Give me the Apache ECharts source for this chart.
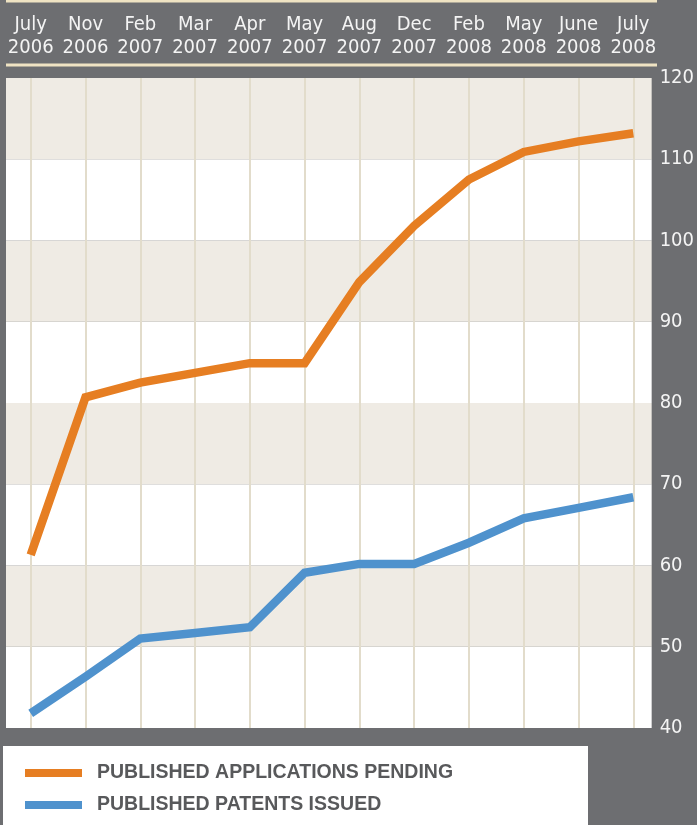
<!DOCTYPE html>
<html>
<head>
<meta charset="utf-8">
<style>
  html, body { margin: 0; padding: 0; background: #6d6e71; }
  #chart { width: 697px; height: 825px; }
</style>
<script src="https://cdn.jsdelivr.net/npm/echarts@6/dist/echarts.min.js"></script>
</head>
<body>
<div id="chart"></div>
<script>
// ---- data ----
const months = ['July', 'Nov', 'Feb', 'Mar', 'Apr', 'May', 'Aug', 'Dec', 'Feb', 'May', 'June', 'July'];
const years  = ['2006', '2006', '2007', '2007', '2007', '2007', '2007', '2007', '2008', '2008', '2008', '2008'];
const applicationsPending = [61.3, 80.7, 82.5, 83.7, 84.9, 84.9, 94.9, 101.8, 107.5, 110.9, 112.2, 113.2];
const patentsIssued       = [41.8, 46.3, 51.0, 51.7, 52.4, 59.1, 60.2, 60.2, 62.8, 65.8, 67.1, 68.4];
const seriesNames = ['PUBLISHED APPLICATIONS PENDING', 'PUBLISHED PATENTS ISSUED'];
const yMin = 40, yMax = 120, yStep = 10;

const categories = months.map((m, i) => m + '\n' + years[i]);

const condensed = "'Liberation Sans Narrow', 'DejaVu Sans Condensed', 'Liberation Sans', sans-serif";
const chart = echarts.init(document.getElementById('chart'), null, { renderer: 'canvas' });

const option = {
  backgroundColor: '#6d6e71',
  animation: false,
  graphic: [
    { type: 'rect', shape: { x: 6, y: 0, width: 651, height: 2.5 }, style: { fill: '#efe3c3' }, z: 10 },
    { type: 'rect', shape: { x: 6, y: 63.5, width: 651, height: 3 }, style: { fill: '#efe3c3' }, z: 10 },
    { type: 'rect', shape: { x: 3, y: 746, width: 585, height: 79 }, style: { fill: '#ffffff' }, z: 0 }
  ],
  legend: {
    orient: 'vertical',
    left: 25,
    top: 763,
    padding: 0,
    icon: 'rect',
    itemWidth: 57,
    itemHeight: 8,
    itemGap: 12,
    data: seriesNames,
    selectedMode: false,
    textStyle: {
      color: '#58595b',
      fontSize: 19.5,
      fontWeight: 'bold',
      fontFamily: "'Liberation Sans', Arial, sans-serif",
      lineHeight: 20,
      padding: [0, 0, 0, 10]
    },
    z: 5
  },
  grid: [
    { left: 6, right: 41, top: 78, bottom: 97 },
    { left: 30.7, right: 63.7, top: 78, bottom: 97 }
  ],
  xAxis: [
    { gridIndex: 0, type: 'value', min: 0, max: 1, show: false },
    {
      gridIndex: 1,
      type: 'category',
      data: categories,
      boundaryGap: false,
      position: 'top',
      axisLine: { show: false },
      axisTick: { show: false },
      axisLabel: {
        color: '#f4f4f4',
        fontSize: 20,
        lineHeight: 23,
        margin: 19,
        fontFamily: condensed,
        interval: 0
      },
      splitLine: { show: true, lineStyle: { color: '#e2dccb', width: 2 } },
      z: 2
    }
  ],
  yAxis: [
    {
      gridIndex: 0,
      type: 'value',
      min: yMin,
      max: yMax,
      interval: yStep,
      position: 'right',
      axisLine: { show: false },
      axisTick: { show: false },
      splitLine: { show: false },
      splitArea: { show: true, areaStyle: { color: ['#ffffff', '#efebe4'] } },
      axisLabel: {
        color: '#f4f4f4',
        fontSize: 20,
        margin: 8,
        fontFamily: condensed
      },
      z: 0
    },
    { gridIndex: 1, type: 'value', min: yMin, max: yMax, interval: yStep, show: false }
  ],
  series: [
    {
      name: seriesNames[0],
      type: 'line',
      xAxisIndex: 1,
      yAxisIndex: 1,
      data: applicationsPending,
      symbol: 'none',
      color: '#e67e22',
      lineStyle: { color: '#e67e22', width: 8.5, join: 'miter', cap: 'butt' },
      z: 3
    },
    {
      name: seriesNames[1],
      type: 'line',
      xAxisIndex: 1,
      yAxisIndex: 1,
      data: patentsIssued,
      symbol: 'none',
      color: '#4f92cd',
      lineStyle: { color: '#4f92cd', width: 8.5, join: 'miter', cap: 'butt' },
      z: 3
    }
  ]
};
chart.setOption(option);
</script>
</body>
</html>
